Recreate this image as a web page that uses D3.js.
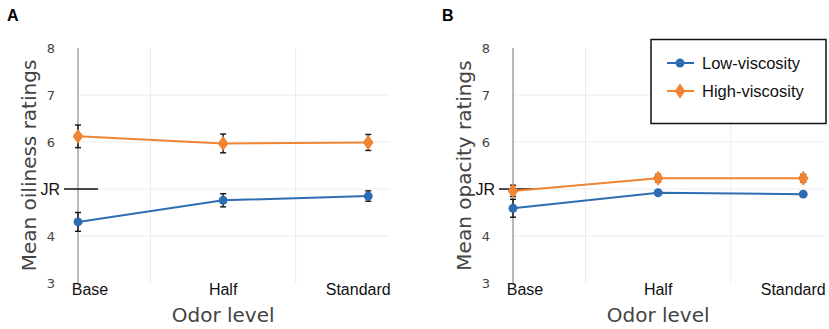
<!DOCTYPE html>
<html><head><meta charset="utf-8">
<script src="https://cdn.jsdelivr.net/npm/d3@7"></script>
<style>body{margin:0;background:#fff}svg{display:block}</style>
</head><body><svg id="c" width="829" height="329"></svg>
<script>
const categories = ["Base", "Half", "Standard"];
const yTicks = [3, 4, 5, 6, 7, 8];
const yTickLabels = ["3", "4", "JR", "6", "7", "8"];
const seriesNames = ["Low-viscosity", "High-viscosity"];
// Panel A: oiliness
const oilLow = [4.30, 4.76, 4.85];
const oilLowErr = [0.20, 0.14, 0.11];
const oilHigh = [6.12, 5.97, 5.99];
const oilHighErr = [0.24, 0.20, 0.17];
// Panel B: opacity
const opaLow = [4.59, 4.92, 4.89];
const opaLowErr = [0.19, 0.04, 0.04];
const opaHigh = [4.96, 5.23, 5.23];
const opaHighErr = [0.12, 0.08, 0.08];

const colors = ["#2f6db3", "#ef8532"];
const svg = d3.select("#c");

function panel(ox, letter, ytitle, low, lowErr, high, highErr, legend) {
  const g = svg.append("g").attr("transform", `translate(${ox},0)`);
  const x = d3.scaleLinear().domain([0, 2.15]).range([78, 390]);
  const y = d3.scaleLinear().domain([3, 8]).range([283, 48]);
  const xi = i => x(i);

  g.append("text").attr("x", 7).attr("y", 21).text(letter)
    .attr("font-family", "Liberation Sans, Arial, sans-serif").attr("font-weight", "bold").attr("font-size", 16);

  // gridlines
  g.selectAll(".hg").data([4, 5, 6, 7]).join("line")
    .attr("x1", x(0)).attr("x2", x(2.15)).attr("y1", d => y(d)).attr("y2", d => y(d))
    .attr("stroke", "#ececec").attr("stroke-width", 1);
  g.selectAll(".vg").data([0.5, 1.5]).join("line")
    .attr("x1", d => x(d)).attr("x2", d => x(d)).attr("y1", y(8)).attr("y2", y(3))
    .attr("stroke", "#ececec").attr("stroke-width", 1);
  g.append("line").attr("x1", x(0)).attr("x2", x(0)).attr("y1", y(8)).attr("y2", y(3))
    .attr("stroke", "#8a8a8a").attr("stroke-width", 1.2);

  // y tick labels
  yTicks.forEach((t, i) => {
    if (yTickLabels[i] === "JR") {
      g.append("text").attr("x", x(0) - 18).attr("y", y(t)).attr("dy", "0.36em")
        .attr("text-anchor", "end").attr("font-family", "Liberation Sans, Arial, sans-serif")
        .attr("font-size", 16).attr("fill", "#111").text("JR");
      g.append("line").attr("x1", x(0) - 14).attr("x2", x(0) + 20).attr("y1", y(t)).attr("y2", y(t))
        .attr("stroke", "#111").attr("stroke-width", 1.5);
    } else {
      g.append("text").attr("x", x(0) - 23).attr("y", y(t)).attr("dy", "0.36em")
        .attr("text-anchor", "end").attr("font-family", "DejaVu Sans, sans-serif")
        .attr("font-size", 13).attr("fill", "#444").text(yTickLabels[i]);
    }
  });

  // x category labels
  const xoff = [12, 0, -10];
  categories.forEach((c, i) => {
    g.append("text").attr("x", xi(i) + xoff[i]).attr("y", 295).attr("text-anchor", "middle")
      .attr("font-family", "Liberation Sans, Arial, sans-serif").attr("font-size", 16)
      .attr("fill", "#111").text(c);
  });

  // axis titles
  g.append("text").attr("x", x(1)).attr("y", 322).attr("text-anchor", "middle")
    .attr("font-family", "DejaVu Sans, sans-serif").attr("font-size", 20).attr("fill", "#444").text("Odor level");
  g.append("text").attr("transform", `translate(${x(0) - 42},${y(5.5)}) rotate(-90)`)
    .attr("text-anchor", "middle").attr("font-family", "DejaVu Sans, sans-serif")
    .attr("font-size", 20).attr("fill", "#444").text(ytitle);

  const series = [[low, lowErr], [high, highErr]];
  const line = d3.line().x((d, i) => xi(i)).y(d => y(d));
  series.forEach(([vals, errs], s) => {
    g.append("path").attr("d", line(vals)).attr("fill", "none")
      .attr("stroke", colors[s]).attr("stroke-width", 2);
  });
  series.forEach(([vals, errs], s) => {
    vals.forEach((v, i) => {
      const eg = g.append("g").attr("stroke", "#111").attr("stroke-width", 1.4);
      eg.append("line").attr("x1", xi(i)).attr("x2", xi(i)).attr("y1", y(v - errs[i])).attr("y2", y(v + errs[i]));
      eg.append("line").attr("x1", xi(i) - 3).attr("x2", xi(i) + 3).attr("y1", y(v - errs[i])).attr("y2", y(v - errs[i]));
      eg.append("line").attr("x1", xi(i) - 3).attr("x2", xi(i) + 3).attr("y1", y(v + errs[i])).attr("y2", y(v + errs[i]));
    });
  });
  series.forEach(([vals], s) => {
    const sym = s === 0 ? d3.symbol(d3.symbolCircle, 62) : d3.symbol(d3.symbolDiamond, 64);
    vals.forEach((v, i) => {
      g.append("path").attr("d", sym()).attr("fill", colors[s])
        .attr("transform", s === 0 ? `translate(${xi(i)},${y(v)})` : `translate(${xi(i)},${y(v)}) scale(1.25,1)`);
    });
  });

  if (legend) {
    const lg = g.append("g");
    lg.append("rect").attr("x", 216).attr("y", 39.5).attr("width", 175).attr("height", 84)
      .attr("fill", "#fff").attr("stroke", "#111").attr("stroke-width", 1.5);
    seriesNames.forEach((n, s) => {
      const yy = 63 + s * 28;
      lg.append("line").attr("x1", 232).attr("x2", 259).attr("y1", yy).attr("y2", yy)
        .attr("stroke", colors[s]).attr("stroke-width", 2);
      const sym = s === 0 ? d3.symbol(d3.symbolCircle, 62) : d3.symbol(d3.symbolDiamond, 64);
      lg.append("path").attr("d", sym()).attr("fill", colors[s])
        .attr("transform", s === 0 ? `translate(245,${yy})` : `translate(245,${yy}) scale(1.25,1)`);
      lg.append("text").attr("x", 267).attr("y", yy).attr("dy", "0.36em")
        .attr("font-family", "Liberation Sans, Arial, sans-serif").attr("font-size", 16.5)
        .attr("fill", "#111").text(n);
    });
  }
}

panel(0, "A", "Mean oiliness ratings", oilLow, oilLowErr, oilHigh, oilHighErr, false);
panel(435, "B", "Mean opacity ratings", opaLow, opaLowErr, opaHigh, opaHighErr, true);
</script></body></html>
